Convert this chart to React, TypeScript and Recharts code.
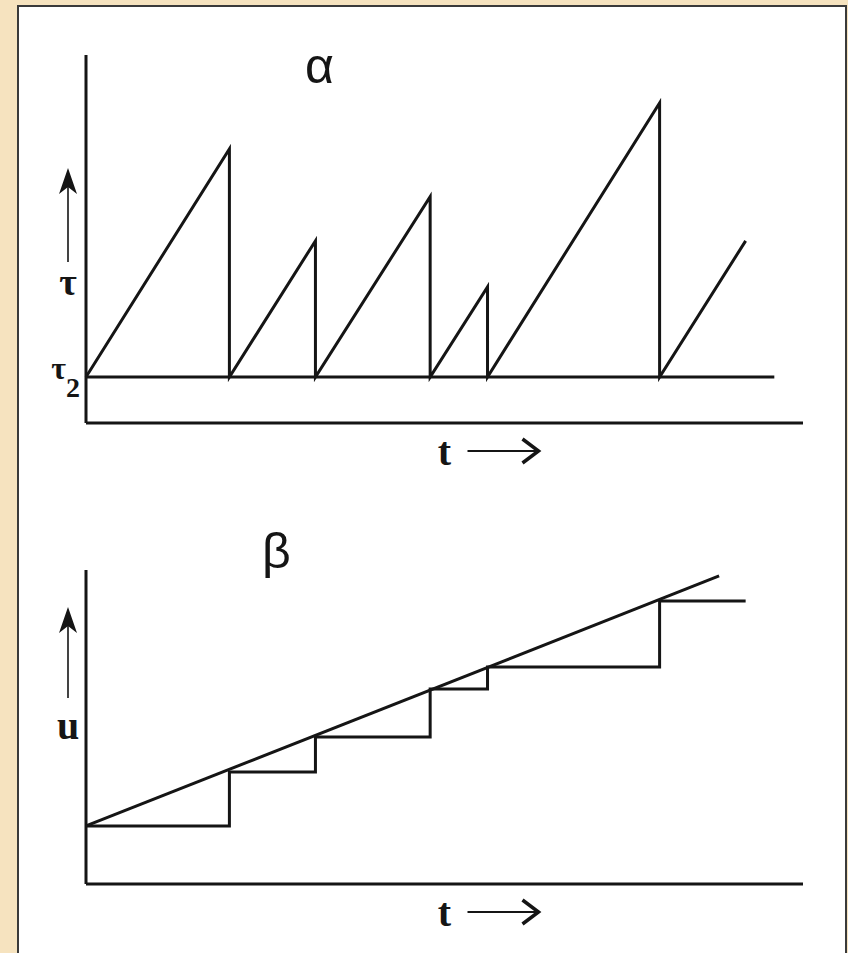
import React from 'react';
import { LineChart, Line, XAxis, YAxis, Label } from 'recharts';

// upper panel: tau rises linearly and resets to tau2 at each jump
const tauTimes = [0, 20, 20, 32, 32, 48, 48, 56, 56, 80, 80, 92];
const tauValues = [12.5, 74.5, 12.5, 49.5, 12.5, 61.5, 12.5, 37, 12.5, 87, 12.5, 49.5];
const tau2Times = [0, 96];
const tau2Values = [12.5, 12.5];
const tau2Ticks = [12.5];

// lower panel: u grows steadily, the staircase holds the value at each jump
const uTimes = [0, 88.3];
const uValues = [18.5, 98.1];
const stepTimes = [0, 20, 20, 32, 32, 48, 48, 56, 56, 80, 80, 92];
const stepValues = [18.5, 18.5, 35.7, 35.7, 46.8, 46.8, 62.1, 62.1, 69.1, 69.1, 90.1, 90.1];

const INK = '#151515';
const SERIF = '"Liberation Serif", "Times New Roman", serif';
const SANS = '"Liberation Sans", Arial, sans-serif';

const toPoints = (ts: number[], vs: number[]) => ts.map((t, i) => ({ t, v: vs[i] }));

const Tau2Tick = ({ x, y }: any) => (
  <text x={x + 2} y={y + 2} textAnchor="end" fontFamily={SERIF} fontWeight="bold" fontSize={32} fill={INK}>
    τ<tspan fontSize={28} dy={18}>2</tspan>
  </text>
);

// "t ->" under the time axis
const timeLabel = (props: any) => {
  const { x, y, width } = props.viewBox;
  const cx = x + width / 2;
  const ay = y + 28;
  return (
    <g>
      <text x={cx} y={y + 42} textAnchor="middle" fontFamily={SERIF} fontWeight="bold" fontSize={40} fill={INK}>
        t
      </text>
      <line x1={cx + 23} y1={ay} x2={cx + 93} y2={ay} stroke={INK} strokeWidth={2} />
      <path d={`M${cx + 78},${ay - 12} L${cx + 94},${ay} L${cx + 78},${ay + 12}`} fill="none" stroke={INK} strokeWidth={3.5} />
    </g>
  );
};

// up arrow with a symbol under it, measured from the bottom of the value axis
const valueLabel = (symbol: string, tipAbove: number, tailAbove: number, textAbove: number, size: number) => (props: any) => {
  const { x, y, width, height } = props.viewBox;
  const ax = x + width - 18;
  const bottom = y + height;
  const tip = bottom - tipAbove;
  return (
    <g>
      <line x1={ax} y1={tip + 14} x2={ax} y2={bottom - tailAbove} stroke={INK} strokeWidth={1.6} />
      <path d={`M${ax},${tip} L${ax - 9},${tip + 26} L${ax},${tip + 19} L${ax + 9},${tip + 26} Z`} fill={INK} />
      <text x={ax} y={bottom - textAbove} textAnchor="middle" fontFamily={SERIF} fontWeight="bold" fontSize={size} fill={INK}>
        {symbol}
      </text>
    </g>
  );
};

const lineProps = {
  dataKey: 'v',
  type: 'linear' as const,
  stroke: INK,
  strokeWidth: 3,
  dot: false,
  activeDot: false,
  isAnimationActive: false,
};

const axisLine = { stroke: INK, strokeWidth: 3 };

export default function App() {
  return (
    <div style={{ position: 'relative', width: 848, height: 953, overflow: 'hidden', background: '#f6e3bf' }}>
      <style>{'body{margin:0}'}</style>
      <div
        style={{
          position: 'absolute',
          left: 17,
          top: 5,
          width: 830,
          height: 980,
          background: '#ffffff',
          border: '2px solid #3a3a3a',
          boxSizing: 'border-box',
        }}
      />

      <div style={{ position: 'absolute', left: 0, top: 0 }}>
        <LineChart width={848} height={476} margin={{ top: 55, right: 45, bottom: 23, left: 26 }}>
          <XAxis dataKey="t" type="number" domain={[0, 100]} tick={false} tickLine={false} axisLine={axisLine} height={30}>
            <Label content={timeLabel} />
          </XAxis>
          <YAxis
            type="number"
            domain={[0, 100]}
            ticks={tau2Ticks}
            tick={<Tau2Tick />}
            tickLine={false}
            axisLine={axisLine}
            width={60}
          >
            <Label content={valueLabel('τ', 255, 161, 128, 38)} />
          </YAxis>
          <Line {...lineProps} data={toPoints(tau2Times, tau2Values)} />
          <Line {...lineProps} data={toPoints(tauTimes, tauValues)} />
        </LineChart>
      </div>

      <div style={{ position: 'absolute', left: 0, top: 476 }}>
        <LineChart width={848} height={477} margin={{ top: 94, right: 45, bottom: 39, left: 26 }}>
          <XAxis dataKey="t" type="number" domain={[0, 100]} tick={false} tickLine={false} axisLine={axisLine} height={30}>
            <Label content={timeLabel} />
          </XAxis>
          <YAxis type="number" domain={[0, 100]} tick={false} tickLine={false} axisLine={axisLine} width={60}>
            <Label content={valueLabel('u', 277, 186, 145, 40)} />
          </YAxis>
          <Line {...lineProps} data={toPoints(stepTimes, stepValues)} />
          <Line {...lineProps} data={toPoints(uTimes, uValues)} />
        </LineChart>
      </div>

      <div style={{ position: 'absolute', left: 305, top: 41, fontFamily: SANS, fontSize: 50, lineHeight: '50px', color: INK }}>
        α
      </div>
      <div style={{ position: 'absolute', left: 262, top: 526, fontFamily: SANS, fontSize: 50, lineHeight: '50px', color: INK }}>
        β
      </div>
    </div>
  );
}
